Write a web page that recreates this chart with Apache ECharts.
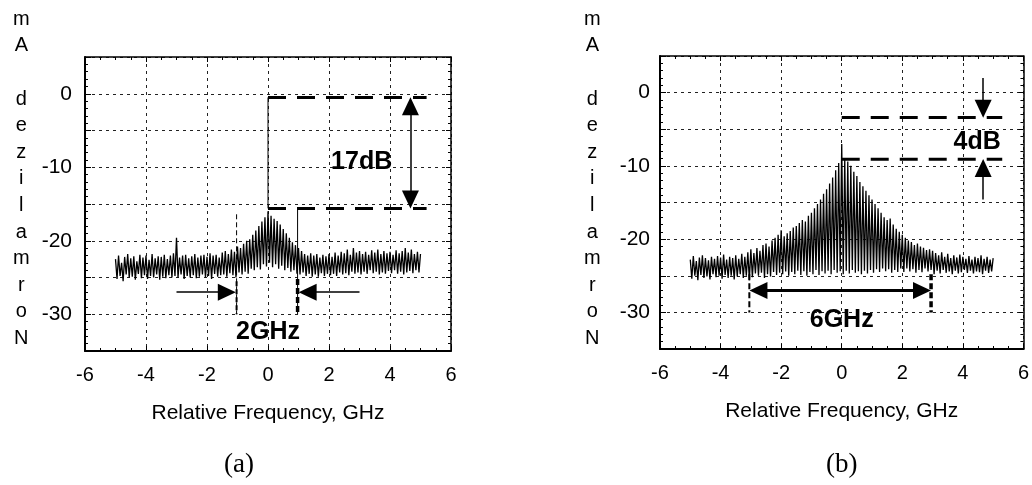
<!DOCTYPE html>
<html><head><meta charset="utf-8">
<script src="https://cdn.jsdelivr.net/npm/echarts@6/dist/echarts.min.js"></script>
<style>html,body{margin:0;padding:0;background:#fff}#c{width:1032px;height:485px}</style>
</head><body><div id="c"></div>
<script>
// ---- data ----
const FREQ_START = -5, FREQ_STEP = 0.05;   // GHz sample grid of the traces
const xTickValues = [-6, -4, -2, 0, 2, 4, 6];
const yTickLabels = [0, -10, -20, -30];
const xTitle = 'Relative Frequency, GHz';
const yTitle = 'Normalized Am';
const panelTags = ['(a)', '(b)'];

// panel (a): normalized spectrum, dB
const specA = [
 -22.5,-25.2,-22.0,-24.8,-23.0,-25.5,-22.2,-24.6,-21.8,-25.0,
 -22.4,-24.9,-22.1,-25.3,-22.8,-24.5,-21.9,-25.1,-22.3,-24.7,
 -22.0,-25.2,-22.6,-24.8,-21.8,-25.0,-22.4,-24.6,-22.1,-25.3,
 -22.2,-24.9,-21.9,-25.1,-22.5,-24.7,-22.0,-25.0,-21.7,-24.8,
 -19.6,-25.0,-22.3,-24.6,-22.0,-25.2,-21.9,-24.8,-22.4,-25.0,
 -22.1,-24.7,-21.8,-25.1,-22.3,-24.9,-22.0,-24.6,-21.9,-25.0,
 -22.2,-24.8,-21.7,-25.2,-22.0,-24.5,-21.9,-24.9,-22.3,-24.7,
 -21.6,-24.6,-21.4,-24.9,-21.8,-24.4,-21.2,-24.7,-21.5,-25.0,
 -20.8,-24.3,-21.0,-24.6,-20.4,-24.2,-20.0,-24.5,-19.8,-23.8,
 -19.2,-24.0,-18.6,-23.6,-18.0,-23.9,-17.4,-23.2,-16.8,-23.5,
 -16.0,-23.0,-16.6,-23.6,-17.0,-23.2,-17.3,-23.8,-17.8,-23.4,
 -18.4,-24.0,-19.0,-23.7,-19.6,-24.2,-20.2,-24.0,-20.6,-24.5,
 -21.0,-24.6,-21.4,-24.3,-21.8,-24.8,-22.0,-24.5,-21.7,-24.9,
 -22.0,-24.6,-21.8,-24.9,-22.3,-24.4,-21.9,-24.8,-22.1,-24.5,
 -21.8,-24.7,-22.2,-24.5,-21.6,-24.8,-22.0,-24.3,-21.5,-24.6,
 -21.7,-24.4,-21.2,-24.7,-21.9,-24.2,-21.0,-24.5,-21.6,-24.3,
 -21.4,-24.6,-21.8,-24.2,-21.5,-24.5,-21.9,-24.0,-21.3,-24.4,
 -21.6,-24.2,-21.2,-24.6,-21.8,-24.3,-21.4,-24.5,-21.7,-24.1,
 -21.5,-24.4,-21.9,-24.0,-21.3,-24.5,-21.7,-24.2,-21.4,-24.6,
 -21.0,-24.3,-21.6,-24.1,-21.2,-24.4,-21.8,-24.0,-21.5,-24.3,
 -21.8
];
// panel (b): normalized spectrum, dB
const specB = [
 -22.8,-25.4,-22.3,-25.0,-23.0,-25.6,-22.5,-24.9,-22.2,-25.3,
 -22.6,-25.1,-22.9,-25.5,-22.4,-24.8,-22.7,-25.2,-22.3,-25.0,
 -22.5,-25.4,-22.1,-24.9,-22.8,-25.3,-22.4,-25.0,-22.6,-25.5,
 -22.2,-25.1,-22.7,-24.8,-22.0,-25.3,-22.4,-25.0,-21.8,-25.6,
 -21.4,-25.2,-21.9,-24.7,-21.2,-25.0,-21.6,-24.6,-20.8,-25.3,
 -20.6,-24.8,-21.0,-25.1,-20.2,-24.5,-19.8,-24.9,-19.4,-24.6,
 -18.8,-24.8,-19.6,-24.4,-19.2,-25.0,-18.9,-24.5,-18.4,-24.8,
 -18.2,-24.3,-17.8,-24.9,-17.4,-24.4,-17.6,-25.0,-16.8,-24.5,
 -16.4,-24.8,-15.8,-24.2,-15.2,-24.9,-14.6,-24.4,-13.8,-24.7,
 -13.2,-24.3,-12.4,-24.8,-11.6,-24.2,-10.6,-24.6,-9.6,-24.4,
 -7.0,-24.8,-9.0,-24.3,-9.4,-24.7,-10.0,-24.2,-10.8,-24.6,
 -11.4,-24.4,-12.2,-24.8,-12.8,-24.3,-13.4,-24.7,-14.0,-24.2,
 -14.6,-24.6,-15.2,-24.1,-15.8,-24.5,-16.4,-24.0,-17.0,-24.4,
 -17.4,-24.1,-17.2,-24.6,-18.0,-24.2,-18.6,-24.5,-19.0,-24.0,
 -19.4,-24.5,-19.8,-24.0,-20.2,-24.4,-20.4,-24.1,-20.8,-24.6,
 -20.6,-24.2,-21.0,-24.5,-21.2,-24.0,-21.5,-24.4,-21.4,-24.2,
 -21.6,-24.8,-21.9,-24.3,-22.2,-24.7,-21.8,-24.2,-22.4,-24.6,
 -22.0,-24.4,-22.6,-24.8,-22.2,-24.3,-22.5,-24.7,-22.1,-24.5,
 -22.4,-24.2,-22.7,-24.6,-22.3,-24.3,-22.8,-24.7,-22.4,-24.4,
 -22.6,-24.5,-22.2,-24.8,-22.7,-24.3,-22.4,-24.6,-22.8,-24.4,
 -22.6
];

// annotation geometry in data units (GHz, dB)
const segA = [
  {pts: [[0, -0.5], [5.2, -0.5]], w: 3, dash: [18, 11]},
  {pts: [[0, -15.6], [5.2, -15.6]], w: 3, dash: [18, 11]},
  {pts: [[0, -15.6], [0, -0.5]], w: 1, dash: 'solid'},
  {pts: [[-1.03, -16.4], [-1.03, -30]], w: 1, dash: [5, 3]},
  {pts: [[-1.03, -25.5], [-1.03, -30]], w: 2, dash: [5, 3]},
  {pts: [[0.97, -15.8], [0.97, -30]], w: 1, dash: 'solid'},
  {pts: [[0.97, -25.2], [0.97, -30]], w: 3.5, dash: [6, 3]}
];
const arrowA = [
  {from: [4.67, -1.7], to: [4.67, -14.4], both: true, w: 1.5},
  {from: [-3.0, -27], to: [-1.35, -27], both: false, w: 1.5},
  {from: [3.0, -27], to: [1.3, -27], both: false, w: 1.5}
];
const textA = [
  {text: '17dB', at: [3.07, -9.3]},
  {text: '2GHz', at: [0, -32.4]}
];

const segB = [
  {pts: [[0, -3.4], [5.3, -3.4]], w: 3, dash: [18, 11]},
  {pts: [[0, -9.1], [5.3, -9.1]], w: 3, dash: [18, 11]},
  {pts: [[-3.05, -24.8], [-3.05, -30]], w: 2, dash: [6, 3]},
  {pts: [[2.95, -24.8], [2.95, -30]], w: 3.5, dash: [6, 3]}
];
const arrowB = [
  {from: [4.67, 2.0], to: [4.67, -2.2], both: false, w: 1.5},
  {from: [4.67, -14.6], to: [4.67, -10.3], both: false, w: 1.5},
  {from: [-2.75, -27], to: [2.65, -27], both: true, w: 3}
];
const textB = [
  {text: '4dB', at: [4.47, -6.8]},
  {text: '6GHz', at: [0, -31.0]}
];

// ---- chart ----
const FONT = '"Liberation Sans", Arial, sans-serif';
const freqAt = i => +(FREQ_START + i * FREQ_STEP).toFixed(2);
const grids = [
  {left: 85, top: 57, width: 366, height: 294},
  {left: 660, top: 56, width: 366, height: 293}
];
const X_MIN = xTickValues[0], X_MAX = xTickValues[xTickValues.length - 1];
const gridLine = {show: true, lineStyle: {color: '#222', width: 1, type: [3, 4]}};

const xAxes = [], yAxes = [];
grids.forEach((g, gi) => {
  xAxes.push({
    gridIndex: gi, type: 'value', position: 'bottom', min: X_MIN, max: X_MAX, interval: 2,
    axisLine: {show: true, onZero: false, lineStyle: {color: '#000', width: 2}},
    axisTick: {show: true, inside: true, length: 5, lineStyle: {color: '#000', width: 1}},
    minorTick: {show: true, splitNumber: 4, length: 3, lineStyle: {color: '#000', width: 1}},
    axisLabel: {color: '#000', fontSize: 20, fontFamily: FONT, margin: 14},
    splitLine: gridLine,
    name: xTitle, nameLocation: 'middle', nameGap: 52,
    nameTextStyle: {color: '#000', fontSize: 21, fontFamily: FONT}
  });
  xAxes.push({
    gridIndex: gi, type: 'value', position: 'top', min: X_MIN, max: X_MAX, interval: 2,
    axisLine: {show: true, onZero: false, lineStyle: {color: '#000', width: 1.5}},
    axisTick: {show: true, inside: true, length: 5, lineStyle: {color: '#000'}},
    minorTick: {show: true, splitNumber: 4, length: 3, lineStyle: {color: '#000'}},
    axisLabel: {show: false}, splitLine: {show: false}
  });
  yAxes.push({
    gridIndex: gi, type: 'value', position: 'left', min: -35, max: 5, interval: 5,
    axisLine: {show: true, onZero: false, lineStyle: {color: '#000', width: 2}},
    axisTick: {show: true, inside: true, length: 6, lineStyle: {color: '#000'}},
    minorTick: {show: true, splitNumber: 5, length: 3, lineStyle: {color: '#000'}},
    axisLabel: {color: '#000', fontSize: 21, fontFamily: FONT, margin: gi === 0 ? 13 : 10,
      formatter: v => yTickLabels.indexOf(v) >= 0 ? String(v) : ''},
    splitLine: gridLine
  });
  yAxes.push({
    gridIndex: gi, type: 'value', position: 'right', min: -35, max: 5, interval: 5,
    axisLine: {show: true, onZero: false, lineStyle: {color: '#000', width: 1.5}},
    axisTick: {show: true, inside: true, length: 5, lineStyle: {color: '#000'}},
    minorTick: {show: true, splitNumber: 5, length: 3, lineStyle: {color: '#000'}},
    axisLabel: {show: false}, splitLine: {show: false}
  });
});

const series = [];
function addPanel(gi, spec, segs, arrows, texts) {
  const ax = {xAxisIndex: gi * 2, yAxisIndex: gi * 2};
  series.push(Object.assign({
    type: 'line', data: spec.map((v, i) => [freqAt(i), v]),
    showSymbol: false, symbol: 'none', animation: false, z: 3,
    lineStyle: {color: '#000', width: 1.3},
    markLine: {
      silent: true, animation: false, precision: 3, label: {show: false},
      symbolSize: [17, 18],
      data: arrows.map(a => [
        {coord: a.from, symbol: a.both ? 'triangle' : 'none', lineStyle: {color: '#000', width: a.w, type: 'solid'}},
        {coord: a.to, symbol: 'triangle'}
      ])
    }
  }, ax));
  segs.forEach(s => series.push(Object.assign({
    type: 'line', data: s.pts, showSymbol: false, symbol: 'none', animation: false, z: 4,
    lineStyle: {color: '#000', width: s.w, type: s.dash}
  }, ax)));
  series.push(Object.assign({
    type: 'scatter', symbolSize: 0, animation: false, z: 5,
    itemStyle: {opacity: 1, color: '#000'},
    data: texts.map(t => ({value: t.at, label: {show: true, position: 'inside', formatter: t.text,
      color: '#000', opacity: 1, textBorderWidth: 0, fontSize: 25, fontWeight: 'bold', fontFamily: FONT}}))
  }, ax));
}
addPanel(0, specA, segA, arrowA, textA);
addPanel(1, specB, segB, arrowB, textB);

const stacked = yTitle.split('').reverse().join('\n');
const graphic = [
  {type: 'text', left: 13, top: 6, style: {text: stacked, font: '20px ' + FONT, lineHeight: 26.6, fill: '#000', textAlign: 'center'}},
  {type: 'text', left: 584, top: 6, style: {text: stacked, font: '20px ' + FONT, lineHeight: 26.6, fill: '#000', textAlign: 'center'}},
  {type: 'text', left: 224, top: 451, style: {text: panelTags[0], font: '27px "Liberation Serif", "Times New Roman", serif', fill: '#000'}},
  {type: 'text', left: 826, top: 451, style: {text: panelTags[1], font: '27px "Liberation Serif", "Times New Roman", serif', fill: '#000'}}
];

const chart = echarts.init(document.getElementById('c'));
chart.setOption({
  backgroundColor: '#fff', animation: false,
  grid: grids, xAxis: xAxes, yAxis: yAxes, series: series, graphic: graphic
});
</script></body></html>
